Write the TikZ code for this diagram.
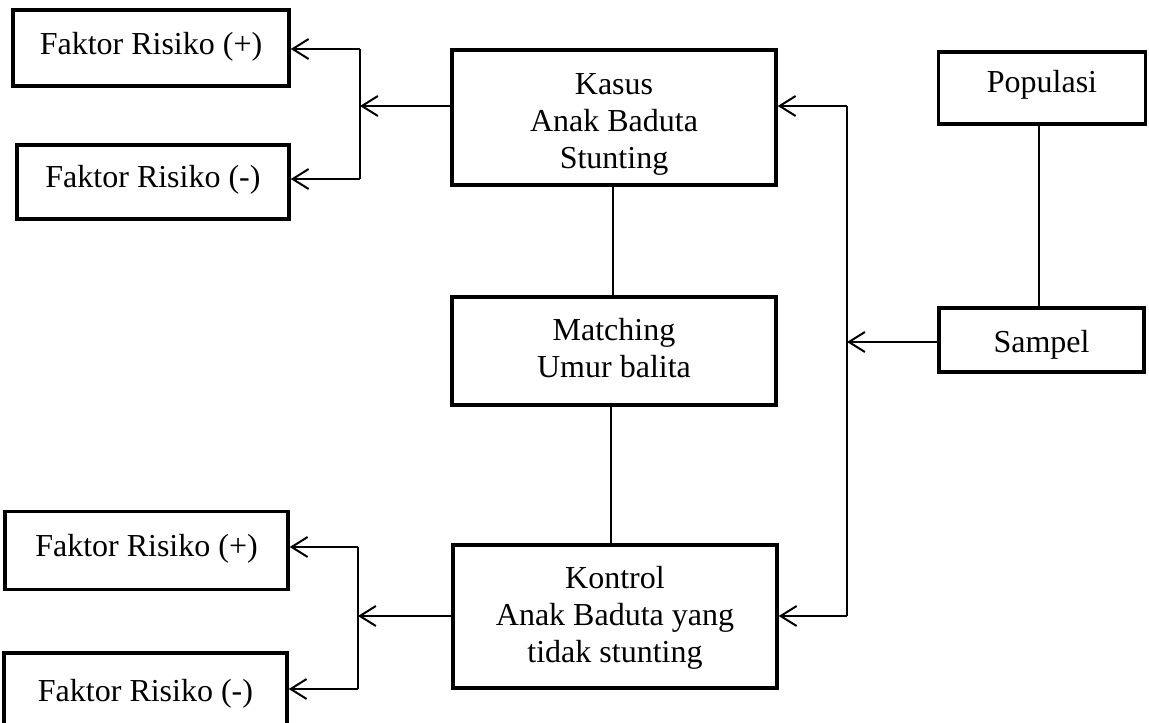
\documentclass[tikz,border=0pt]{standalone}
\usepackage{fontspec}
\setmainfont{Liberation Serif}
\usetikzlibrary{arrows.meta}
\begin{document}
\begin{tikzpicture}[x=1pt,y=-1pt,
  box/.style={draw,line width=3.5pt,inner sep=0pt},
  txt/.style={align=center,inner sep=0pt,font=\fontsize{32}{37}\selectfont},
  conn/.style={line width=2pt},
  arr/.style={conn,-{Straight Barb[length=16pt,width=20pt,line width=2pt]}}]
\useasboundingbox (0,0) rectangle (1149,723);
% boxes
\node[box,minimum width=276pt,minimum height=76pt] (frp1) at (151,48) {};
\node[box,minimum width=272pt,minimum height=74pt] (frm1) at (153,182) {};
\node[box,minimum width=324pt,minimum height=135pt] (kasus) at (614,117.5) {};
\node[box,minimum width=207pt,minimum height=72pt] (pop) at (1042,88) {};
\node[box,minimum width=205pt,minimum height=64pt] (samp) at (1041.5,340) {};
\node[box,minimum width=324pt,minimum height=108pt] (match) at (614,351) {};
\node[box,minimum width=324pt,minimum height=143pt] (kontrol) at (615,616.5) {};
\node[box,minimum width=283pt,minimum height=78pt] (frp2) at (146.5,550.5) {};
\node[box,minimum width=283pt,minimum height=80pt] (frm2) at (145.5,693) {};
% texts (yshift is in canvas points: positive = up)
\node[txt] (frp1t) at ([yshift=1pt]frp1.center) {Faktor Risiko (+)};
\node[txt] (frm1t) at ([yshift=2pt]frm1.center) {Faktor Risiko (-)};
\node[txt] (kasust) at ([yshift=-7pt]kasus.center) {Kasus\\Anak Baduta\\Stunting};
\node[txt] (popt) at ([yshift=3pt]pop.center) {Populasi};
\node[txt] (sampt) at ([yshift=-5pt]samp.center) {Sampel};
\node[txt] (matcht) at ([yshift=3pt]match.center) {Matching\\Umur balita};
\node[txt] (kontrolt) at ([yshift=-1pt]kontrol.center) {Kontrol\\Anak Baduta yang\\tidak stunting};
\node[txt] (frp2t) at ([yshift=2pt]frp2.center) {Faktor Risiko (+)};
\node[txt] (frm2t) at ([yshift=-1pt]frm2.center) {Faktor Risiko (-)};
% bracket coordinates
\coordinate (tb) at (360,106);
\coordinate (tbt) at (360,49);
\coordinate (tbb) at (360,179);
\coordinate (bb) at (358,616);
\coordinate (bbt) at (358,547);
\coordinate (bbb) at (358,689);
\coordinate (rt) at (847,106);
\coordinate (rm) at (847,342);
\coordinate (rb) at (847,616);
% top-left connectors
\draw[arr] (kasus.west |- tb) -- (tb);
\draw[conn] (tbt) -- (tbb);
\draw[arr] (tbt) -- (frp1.east |- tbt);
\draw[arr] (tbb) -- (frm1.east |- tbb);
% bottom-left connectors
\draw[arr] (kontrol.west |- bb) -- (bb);
\draw[conn] (bbt) -- (bbb);
\draw[arr] (bbt) -- (frp2.east |- bbt);
\draw[arr] (bbb) -- (frm2.east |- bbb);
% right side
\draw[conn] (rt) -- (rb);
\draw[arr] (rt) -- (kasus.east |- rt);
\draw[arr] (rb) -- (kontrol.east |- rb);
\draw[arr] (samp.west |- rm) -- (rm);
\draw[conn] (pop.south -| 1039,0) -- (samp.north -| 1039,0);
% middle column
\draw[conn] (kasus.south -| 613,0) -- (match.north -| 613,0);
\draw[conn] (match.south -| 611,0) -- (kontrol.north -| 611,0);
\end{tikzpicture}
\end{document}
